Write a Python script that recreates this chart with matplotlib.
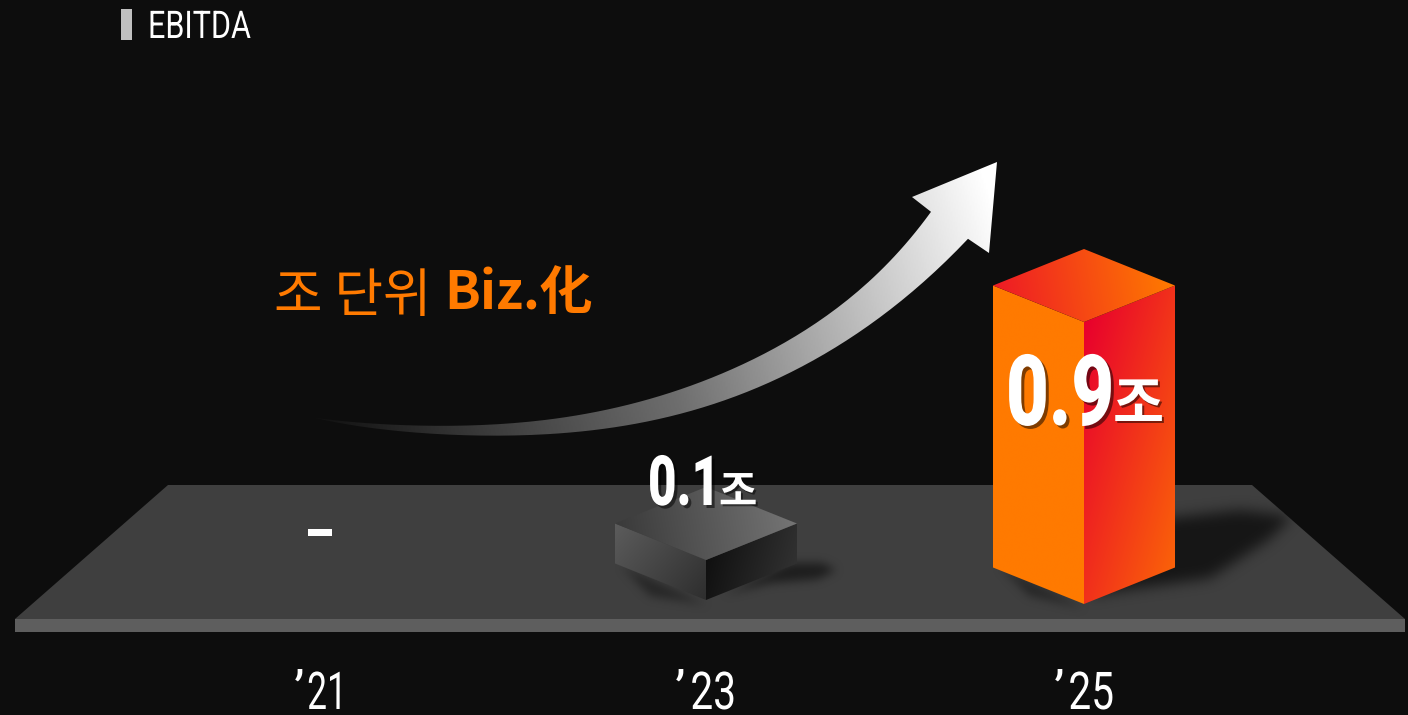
import numpy as np
import matplotlib
matplotlib.use('Agg')
import matplotlib.pyplot as plt
from matplotlib.colors import LinearSegmentedColormap
from matplotlib.patches import PathPatch, Polygon, Rectangle
from matplotlib.path import Path
from matplotlib.transforms import Affine2D
import matplotlib.patheffects as pe

# Datos del grafico
years = ["’21", "’23", "’25"]
values = [0.0, 0.1, 0.9]
value_labels = ['-', '0.1', '0.9']
unit = '조'
legend_label = 'EBITDA'

KR = ['Noto Sans CJK KR', 'DejaVu Sans']
LATIN = ['Roboto', 'DejaVu Sans']

W, H = 1408, 715
fig = plt.figure(figsize=(W / 100, H / 100), dpi=100, facecolor='#0d0d0d')
ax = fig.add_axes([0, 0, 1, 1])
ax.set_xlim(0, W)
ax.set_ylim(H, 0)
ax.axis('off')


class Narrow(pe.AbstractPathEffect):
    # estrecha el texto en horizontal (no hay fuente condensada instalada)
    def __init__(self, sx, x0, shadow=None):
        super().__init__()
        self.sx, self.x0, self.shadow = sx, x0, shadow

    def draw_path(self, renderer, gc, tpath, affine, rgbFace=None):
        squeeze = affine + Affine2D().translate(-self.x0, 0).scale(self.sx, 1).translate(self.x0, 0)
        if self.shadow:
            gc0 = renderer.new_gc()
            gc0.copy_properties(gc)
            gc0.set_alpha(self.shadow[1])
            off = Affine2D().translate(self.shadow[0], -self.shadow[0])
            renderer.draw_path(gc0, tpath, squeeze + off, (0, 0, 0))
            gc0.restore()
        renderer.draw_path(gc, tpath, squeeze, rgbFace)


def gradient(path, p0, p1, colors, z):
    # degradado lineal de p0 a p1, recortado a la forma
    x0, y0 = path.vertices.min(axis=0)
    x1, y1 = path.vertices.max(axis=0)
    xx, yy = np.meshgrid(np.linspace(x0, x1, 400), np.linspace(y0, y1, 400))
    d = np.array(p1, float) - np.array(p0, float)
    t = ((xx - p0[0]) * d[0] + (yy - p0[1]) * d[1]) / (d @ d)
    cmap = LinearSegmentedColormap.from_list('g', colors)
    im = ax.imshow(np.clip(t, 0, 1), cmap=cmap, vmin=0, vmax=1, extent=(x0, x1, y1, y0),
                   aspect='auto', zorder=z, interpolation='bilinear')
    im.set_clip_path(PathPatch(path, transform=ax.transData))
    ax.set_xlim(0, W)
    ax.set_ylim(H, 0)


def blurred(points, color, alpha, size, z):
    # sombra difusa: mascara del poligono con un blur simple
    xx, yy = np.meshgrid(np.arange(W), np.arange(H))
    pix = np.c_[xx.ravel() + 0.5, yy.ravel() + 0.5]
    mask = Path(points).contains_points(pix).reshape(H, W).astype(float)
    kernel = np.ones(size) / size
    for _ in range(3):
        mask = np.apply_along_axis(lambda r: np.convolve(r, kernel, mode='same'), 0, mask)
        mask = np.apply_along_axis(lambda r: np.convolve(r, kernel, mode='same'), 1, mask)
    rgba = np.zeros((H, W, 4))
    rgba[..., :3] = matplotlib.colors.to_rgb(color)
    floor = Path([(168, 485), (1252, 485), (1405, 619), (15, 619)])
    rgba[..., 3] = mask * alpha * floor.contains_points(pix).reshape(H, W)
    ax.imshow(rgba, extent=(0, W, H, 0), aspect='auto', zorder=z, interpolation='bilinear')


# Suelo
ax.add_patch(Polygon([(168, 485), (1252, 485), (1405, 619), (15, 619)], fc='#3f3f3f', ec='none', zorder=1))
ax.add_patch(Rectangle((15, 619), 1390, 13, fc='#5e5e5e', ec='none', zorder=1))

# Sombras
blurred([(1160, 519), (1240, 510), (1292, 516), (1268, 540), (1210, 578), (1110, 592), (1090, 596)],
        '#141414', 0.95, 13, 2)
blurred([(1000, 566), (1084, 608), (1030, 596)], '#1c1c1c', 0.7, 9, 2)
blurred([(790, 563), (822, 563), (836, 570), (818, 579), (770, 583), (725, 594)], '#1c1c1c', 0.95, 9, 2)
blurred([(622, 566), (706, 604), (650, 596)], '#1c1c1c', 0.7, 9, 2)

# Cajas isometricas
centers = [320, 706, 1084]
half_w, depth = 91, 36.5
box_styles = [
    None,
    dict(top=['#3b3b3b', '#747474'], left=['#5c5c5c', '#2e2e2e'], right=['#101010', '#585858'], base=600),
    dict(top=['#ee1c25', '#ff7a00'], left=['#ff7a00', '#ff7a00'], right=['#e8002d', '#ff7a00'], base=604),
]

for cx, v, st in zip(centers, values, box_styles):
    if st is None:
        continue
    b = st['base']
    h = 9.75 + 302.5 * v  # escala de la maqueta (no parte de cero)
    top_c = b - h
    lx, rx = cx - half_w, cx + half_w
    left = Path([(lx, b - depth), (cx, b), (cx, top_c), (lx, top_c - depth), (lx, b - depth)])
    right = Path([(cx, b), (rx, b - depth), (rx, top_c - depth), (cx, top_c), (cx, b)])
    top = Path([(lx, top_c - depth), (cx, top_c), (rx, top_c - depth), (cx, top_c - 2 * depth), (lx, top_c - depth)])
    gradient(left, (lx, top_c - depth), (cx, b), st['left'], 3)
    gradient(right, (cx, top_c), (cx + 185, top_c + 52), st['right'], 3)
    gradient(top, (lx + 7, top_c - 22), (rx - 5, top_c - 52), st['top'], 3)

# Flecha: bordes ajustados con un polinomio para que queden suaves
up_x = [310, 367, 433, 500, 567, 633, 700, 740, 780, 820, 853, 887, 910, 931]
up_y = [417, 423, 426, 424, 417, 403, 383, 366, 344, 321, 295, 265, 238, 212]
lo_x = [310, 367, 433, 500, 567, 633, 700, 740, 780, 820, 860, 900, 920, 947, 968]
lo_y = [417, 427, 434, 436, 433, 423, 408, 396, 378, 357, 330, 298, 290, 260, 238]
up_fit = np.poly1d(np.polyfit((np.array(up_x) - 600) / 300, up_y, 6))
lo_fit = np.poly1d(np.polyfit((np.array(lo_x) - 600) / 300, lo_y, 6))
ux = np.linspace(310, 931, 120)
lx_ = np.linspace(968, 310, 120)
outline = list(zip(ux, up_fit((ux - 600) / 300)))
outline += [(912, 197), (997, 162), (989, 253)]
outline += list(zip(lx_, lo_fit((lx_ - 600) / 300)))
outline.append(outline[0])
gradient(Path(outline), (296, 408), (985, 175), ['#0d0d0d', '#6e6e6e', '#ffffff'], 4)

# Leyenda
ax.add_patch(Rectangle((121, 9), 11, 31, fc='#c0c0c0', ec='none', zorder=5))
ax.text(148, 38, legend_label, color='white', fontsize=27.5, family=LATIN,
        va='baseline', ha='left', zorder=5, path_effects=[Narrow(0.8, 148)])

# Texto naranja
ax.text(274, 296, '조 단위', color='#ff7a00', fontsize=38, family=KR, fontweight='light',
        va='center', ha='left', zorder=5)
ax.text(444, 293, 'Biz.化', color='#ff7a00', fontsize=38, family=KR, fontweight='bold',
        va='center', ha='left', zorder=5)

# Etiquetas de valores
ax.text(320, 534, value_labels[0], color='white', fontsize=44, family=LATIN, fontweight='bold',
        va='center', ha='center', zorder=6, path_effects=[Narrow(1.4, 320)])
ax.text(648, 505, value_labels[1], color='white', fontsize=50, family=LATIN, fontweight='black',
        va='baseline', ha='left', zorder=6, path_effects=[Narrow(0.71, 648, shadow=(3, 0.5))])
ax.text(719, 505, unit, color='white', fontsize=30, family=KR, fontweight='bold',
        va='baseline', ha='left', zorder=6, path_effects=[Narrow(1.0, 719, shadow=(2, 0.5))])
ax.text(1006, 425, value_labels[2], color='white', fontsize=71, family=LATIN, fontweight='black',
        va='baseline', ha='left', zorder=6, path_effects=[Narrow(0.75, 1006, shadow=(3, 0.5))])
ax.text(1113, 422, unit, color='white', fontsize=40, family=KR, fontweight='bold',
        va='baseline', ha='left', zorder=6, path_effects=[Narrow(1.0, 1113, shadow=(2, 0.5))])

# Anos: el apostrofo va separado de los digitos
for apos_x, right_x, sx, y in zip([294, 675, 1054], [347, 736, 1114], [0.68, 0.78, 0.78], years):
    ax.text(apos_x, 708, y[0], color='white', fontsize=37.5, family=LATIN,
            va='baseline', ha='left', zorder=5)
    ax.text(right_x, 709, y[1:], color='white', fontsize=37.5, family=LATIN,
            va='baseline', ha='right', zorder=5, path_effects=[Narrow(sx, right_x)])

fig.savefig('out.png', dpi=100, facecolor=fig.get_facecolor())
